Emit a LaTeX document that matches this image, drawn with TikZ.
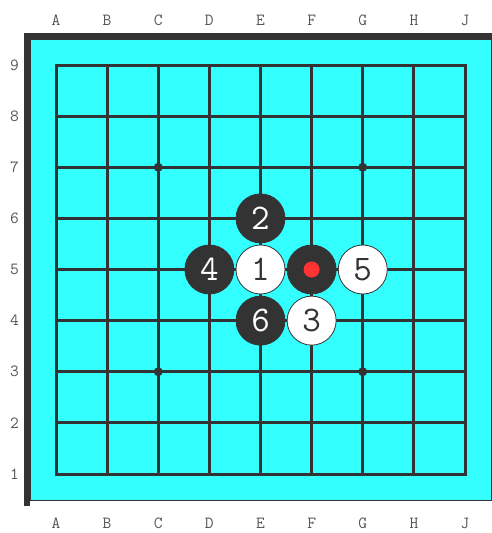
\documentclass[tikz,border=0pt]{standalone}
\usepackage{fontspec}
\definecolor{boardc}{HTML}{33FFFF}
\definecolor{dk}{HTML}{333333}
\definecolor{lab}{HTML}{555555}
\definecolor{redd}{HTML}{FF3333}
\tikzset{
  gridline/.style={draw=dk,line width=3pt},
  coordlab/.style={font=\ttfamily\fontsize{17}{17}\selectfont,text=lab,inner sep=0pt},
  blackstone/.style={circle,fill=dk,draw=dk,line width=0.8pt,minimum size=49pt,inner sep=0pt,text=white,font=\ttfamily\fontsize{36}{36}\selectfont},
  whitestone/.style={circle,fill=white,draw=dk,line width=0.8pt,minimum size=49pt,inner sep=0pt,text=dk,font=\ttfamily\fontsize{36}{36}\selectfont},
  starpt/.style={circle,fill=dk,minimum size=9pt,inner sep=0pt},
}
\begin{document}
\begin{tikzpicture}[x=1pt,y=-1pt]
\useasboundingbox (0,0) rectangle (492,533);
\fill[dk] (24,33) rectangle (30,506);
\fill[dk] (24,33) rectangle (492,39);
\filldraw[fill=boardc,draw=dk,line width=1pt] (30,39) rectangle (491,500);
% grid
\foreach \i in {0,...,8} {
  \draw[gridline] ({56+51.125*\i},65) -- ({56+51.125*\i},474);
  \draw[gridline] (56,{65+51.125*\i}) -- (465,{65+51.125*\i});
}
\draw[gridline,line cap=rect] (56,65) rectangle (465,474);
% labels
\foreach \l [count=\i from 0] in {A,B,C,D,E,F,G,H,J} {
  \node[coordlab] (t\l) at ({56+51.125*\i},20) {\l};
  \node[coordlab] (b\l) at ({56+51.125*\i},523) {\l};
}
\foreach \n [count=\i from 0] in {9,8,7,6,5,4,3,2,1} {
  \node[coordlab] (n\n) at (14.5,{65+51.125*\i}) {\n};
}
% star points
\node[starpt] (s1) at ({56+51.125*2},{65+51.125*2}) {};
\node[starpt] (s2) at ({56+51.125*6},{65+51.125*2}) {};
\node[starpt] (s3) at ({56+51.125*2},{65+51.125*6}) {};
\node[starpt] (s4) at ({56+51.125*6},{65+51.125*6}) {};
% stones
\node[whitestone] (m1) at ({56+51.125*4},{65+51.125*4}) {1};
\node[blackstone] (m2) at ({56+51.125*4},{65+51.125*3}) {2};
\node[whitestone] (m3) at ({56+51.125*5},{65+51.125*5}) {3};
\node[blackstone] (m4) at ({56+51.125*3},{65+51.125*4}) {4};
\node[whitestone] (m5) at ({56+51.125*6},{65+51.125*4}) {5};
\node[blackstone] (m6) at ({56+51.125*4},{65+51.125*5}) {6};
\node[blackstone] (m0) at ({56+51.125*5},{65+51.125*4}) {};
\node[circle,fill=redd,minimum size=16pt,inner sep=0pt] (rd) at (m0) {};
\end{tikzpicture}
\end{document}
